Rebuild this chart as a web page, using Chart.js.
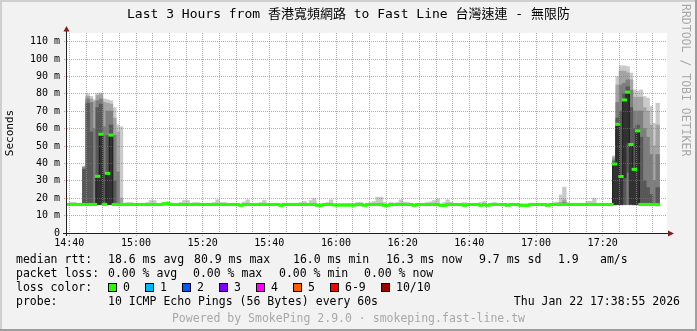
<!DOCTYPE html>
<html><head><meta charset="utf-8">
<script src="https://cdn.jsdelivr.net/npm/chart.js@4.4.1/dist/chart.umd.min.js"></script>
<style>
html,body{margin:0;padding:0;background:#f2f2f2;}
#wrap{position:relative;width:697px;height:331px;overflow:hidden;}
#c{position:absolute;left:0;top:0;}
.t{position:absolute;font-family:"DejaVu Sans Mono",monospace;font-size:11.5px;line-height:14px;color:#000;white-space:pre;}
.sw{position:absolute;width:7px;height:7px;border:1px solid #000;top:283px;}
#rrd{position:absolute;left:679px;top:4px;writing-mode:vertical-rl;font-family:"DejaVu Sans Mono",monospace;font-size:11.5px;color:#a8a8a8;line-height:14px;white-space:pre;}
</style></head><body>
<div id="wrap">
<canvas id="c" width="697" height="331"></canvas>
<div id="rrd">RRDTOOL / TOBI OETIKER</div>
<div class="t" style="left:16px;top:252px">median rtt:</div>
<div class="t" style="left:108px;top:252px">18.6 ms avg</div>
<div class="t" style="left:194px;top:252px">80.9 ms max</div>
<div class="t" style="left:293px;top:252px">16.0 ms min</div>
<div class="t" style="left:386px;top:252px">16.3 ms now</div>
<div class="t" style="left:479px;top:252px">9.7 ms sd</div>
<div class="t" style="left:558px;top:252px">1.9</div>
<div class="t" style="left:600px;top:252px">am/s</div>
<div class="t" style="left:16px;top:266px">packet loss:</div>
<div class="t" style="left:108px;top:266px">0.00 % avg</div>
<div class="t" style="left:193px;top:266px">0.00 % max</div>
<div class="t" style="left:279px;top:266px">0.00 % min</div>
<div class="t" style="left:364px;top:266px">0.00 % now</div>
<div class="t" style="left:16px;top:280px">loss color:</div>
<div id="lossLegend"></div>
<div class="t" style="left:16px;top:294px">probe:</div>
<div class="t" style="left:108px;top:294px">10 ICMP Echo Pings (56 Bytes) every 60s</div>
<div class="t" style="right:17px;top:294px">Thu Jan 22 17:38:55 2026</div>
<div class="t" style="left:0;width:697px;text-align:center;top:311px;color:#a8a8a8">Powered by SmokePing 2.9.0 · smokeping.fast-line.tw</div>
</div>
<script>
// ---- data (minutes after 14:40; slot i covers minute i-1..i) ----
const timeLabels = ['14:40','15:00','15:20','15:40','16:00','16:20','16:40','17:00','17:20'];
const timeTickMin = [0,20,40,60,80,100,120,140,160];
const yTickVals = [0,10,20,30,40,50,60,70,80,90,100,110];
const yTickLabels = ['0','10 m','20 m','30 m','40 m','50 m','60 m','70 m','80 m','90 m','100 m','110 m'];

const medianMs = [
16.4,16.4,16.4,16.4,16.4,16.4,16.4,16.4,16.4,32.6,
56.8,16.5,34.3,56.3,16.4,16.4,16.4,16.4,16.4,16.4,
16.4,16.4,16.4,16.4,16.4,16.4,16.4,16.4,16.4,16.9,
16.9,16.4,16.4,16.4,16.4,16.4,16.4,16.4,16.4,16.4,
16.4,16.4,16.4,16.4,16.4,16.4,16.4,16.4,16.4,16.4,
16.4,16.4,15.9,16.4,16.4,16.4,16.4,16.4,16.4,16.4,
16.4,16.4,16.4,16.4,15.9,16.4,16.4,16.4,16.4,16.4,
16.4,16.4,16.4,16.4,16.4,15.9,15.9,16.4,16.4,16.4,
16.1,16.1,16.1,16.1,16.1,16.1,16.1,16.4,16.4,15.9,
16.4,16.4,16.4,16.4,16.4,15.9,15.9,16.4,16.4,16.4,
16.4,16.4,16.4,16.4,15.9,16.4,16.4,16.4,16.4,16.4,
16.4,16.4,15.9,15.9,16.4,16.4,16.4,16.4,16.4,15.9,
16.4,16.4,16.4,16.4,15.9,16.4,15.9,16.4,16.4,16.4,
16.4,16.4,15.9,16.4,16.4,16.4,15.9,15.9,15.9,16.4,
16.4,16.4,16.4,16.4,15.9,16.4,16.4,16.4,16.4,16.4,
16.4,16.4,16.4,16.4,16.4,16.4,16.4,16.4,16.4,16.4,
16.4,16.4,16.4,16.4,39.7,62.5,32.5,76.5,81.0,50.9,
36.6,58.7,16.4,16.4,16.4,16.4,16.4,16.3];

const smokeTopMs = [
17.0,17.6,17.6,16.6,16.6,38.5,79.8,78.5,76.5,80.3,
80.5,77.0,76.5,76.0,72.0,62.0,61.0,16.6,17.4,17.4,
16.6,16.6,16.6,16.6,17.4,18.6,18.6,16.6,16.6,16.9,
18.0,16.9,16.6,16.6,17.4,18.6,18.6,16.6,17.4,17.4,
16.6,16.6,16.6,16.6,17.4,19.0,17.4,17.4,16.6,16.6,
16.6,16.6,16.6,17.7,19.0,16.6,16.6,16.6,17.4,18.6,
16.6,16.6,16.6,16.6,16.6,16.6,16.6,16.6,16.6,16.6,
17.4,18.0,16.6,18.6,19.8,16.6,16.6,16.6,17.4,19.0,
16.6,16.6,16.6,16.6,16.6,16.6,16.6,17.4,17.4,16.6,
16.6,17.4,18.0,20.5,20.5,17.6,16.6,17.4,16.6,17.4,
19.0,17.6,17.4,16.6,16.6,16.6,16.6,16.6,17.4,17.8,
18.6,19.6,16.6,17.4,19.0,17.6,16.6,16.6,16.6,17.4,
16.6,16.6,16.6,16.6,17.4,18.0,16.6,16.6,17.4,16.6,
16.6,16.6,16.6,16.6,16.6,16.6,16.6,16.6,16.6,16.6,
16.6,16.6,16.6,16.6,16.6,16.6,17.4,17.7,21.8,26.3,
17.4,16.6,16.6,16.6,16.6,16.6,18.1,18.1,19.9,16.6,
16.6,16.6,16.6,16.6,44.3,89.9,96.0,96.0,95.6,91.8,
82.2,81.3,82.2,78.4,77.5,72.6,63.0,74.5];

// slots with several sorted pings (10 per slot) visible as smoke
const spikeSlots = [5,6,7,8,9,10,11,12,13,14,15,16,148,149,164,165,166,167,168,169,170,171,172,173,174,175,176,177];
const spikePings = [
[16.2,16.3,16.3,16.4,16.4,16.5,36.5,37.5,38.0,38.5],
[16.2,16.3,16.4,16.4,16.5,16.5,74.5,77.0,78.5,79.8],
[16.2,16.3,16.4,16.4,16.5,16.6,58.0,75.0,77.0,78.5],
[16.2,16.3,16.4,16.5,16.5,16.6,17.0,60.0,75.5,76.5],
[16.3,16.4,16.4,16.5,16.5,32.6,72.0,76.0,79.0,80.3],
[16.3,16.4,16.5,16.5,16.6,56.8,74.0,77.0,79.5,80.5],
[16.2,16.3,16.4,16.4,16.5,16.6,34.0,61.0,75.0,77.0],
[16.3,16.4,16.5,16.5,16.6,34.3,56.0,70.0,74.5,76.5],
[16.3,16.4,16.5,16.5,16.6,56.3,62.0,70.0,74.0,76.0],
[16.2,16.3,16.4,16.4,16.5,16.6,30.0,56.0,66.0,72.0],
[16.2,16.3,16.4,16.4,16.5,16.6,17.0,35.0,58.0,62.0],
[16.2,16.3,16.4,16.4,16.5,16.5,16.6,17.0,20.0,61.0],
[16.2,16.3,16.3,16.4,16.4,16.4,16.5,16.6,17.5,21.8],
[16.2,16.3,16.3,16.4,16.4,16.4,16.6,17.5,19.0,26.3],
[16.2,16.3,16.3,16.4,16.4,39.7,41.0,42.0,43.5,44.3],
[16.2,16.3,16.4,16.5,16.6,62.5,66.0,75.0,85.0,89.9],
[16.2,16.3,16.4,16.5,16.6,32.5,70.0,85.0,93.0,96.0],
[16.3,16.4,16.5,16.5,32.0,76.5,80.0,86.0,93.0,96.0],
[16.3,16.4,16.5,35.0,51.8,81.0,84.0,88.0,92.0,95.6],
[16.3,16.4,16.5,16.6,16.6,50.9,72.0,82.0,88.0,91.8],
[16.2,16.3,16.4,16.5,16.5,36.6,60.0,70.0,78.0,82.2],
[16.2,16.3,16.4,16.5,16.6,58.7,62.0,70.0,78.0,81.3],
[16.2,16.3,16.4,16.5,16.5,16.6,55.0,70.0,78.0,82.2],
[16.2,16.3,16.4,16.5,16.5,16.6,30.0,60.0,72.0,78.4],
[16.2,16.3,16.4,16.5,16.5,16.6,26.0,55.0,70.0,77.5],
[16.2,16.3,16.4,16.5,16.5,16.6,22.0,45.0,62.0,72.6],
[16.2,16.3,16.4,16.5,16.5,16.6,17.0,30.0,50.0,63.0],
[16.2,16.3,16.4,16.5,16.5,16.6,26.0,45.0,62.0,74.5]];

const lossLabels = ['0','1','2','3','4','5','6-9','10/10'];
const lossColors = ['#26ff00','#00b8ff','#0059ff','#7e00ff','#ff00fe','#ff5e00','#ff0000','#a10000'];
const lossSwatchX = [108,145,182,219,256,293,330,381];

// ---- legend swatches ----
const lg = document.getElementById('lossLegend');
lossLabels.forEach((l, k) => {
  const s = document.createElement('div'); s.className = 'sw';
  s.style.left = lossSwatchX[k] + 'px'; s.style.background = lossColors[k]; lg.appendChild(s);
  const t = document.createElement('div'); t.className = 't';
  t.style.left = (lossSwatchX[k] + 15) + 'px'; t.style.top = '280px'; t.textContent = l; lg.appendChild(t);
});

// ---- build datasets ----
const N = medianMs.length;
const pingsAt = i => {
  const k = spikeSlots.indexOf(i);
  if (k >= 0) return spikePings[k];
  const m = medianMs[i];
  return [m,m,m,m,m,m,m,m,m,Math.max(m, smokeTopMs[i])];
};
const greys = ['#cacaca','#a4a4a4','#7e7e7e','#585858','#323232'];
const layerData = L => {
  const arr = [];
  for (let i = 0; i < N; i++) {
    const p = pingsAt(i);
    const lo = p[L], hi = p[9 - L];
    if (L === 0 || hi - lo > 0.05) arr.push({x: i - 0.5, y: [lo, hi]});
  }
  return arr;
};
const datasets = [];
greys.forEach((g, L) => datasets.push({
  type: 'bar', data: layerData(L), backgroundColor: g, borderWidth: 0, inflateAmount: 0.5,
  grouped: false, barPercentage: 1, categoryPercentage: 1, order: 20 - L, clip: 0
}));
datasets.push({
  type: 'line', data: medianMs.map((m, i) => ({x: i - 0.5, y: m})), stepped: 'middle',
  borderColor: '#202020', borderWidth: 1, pointRadius: 0, order: 5, clip: 0
});
datasets.push({
  type: 'bar', data: medianMs.map((m, i) => ({x: i - 0.5, y: [m - 0.3, m + 0.3]})),
  backgroundColor: lossColors[0], borderWidth: 0, grouped: false, inflateAmount: 1,
  barPercentage: 1, categoryPercentage: 1, order: 1, clip: 0
});

const MAJOR = 'rgba(222,79,79,0.6)';
const MINOR = 'rgba(143,143,143,0.75)';
const MONO = '"DejaVu Sans Mono", monospace';

const frame = {
  id: 'frame',
  beforeDraw(chart) {
    const c = chart.ctx, a = chart.chartArea;
    c.save();
    c.fillStyle = '#f2f2f2'; c.fillRect(0, 0, 697, 331);
    c.fillStyle = '#cfcfcf'; c.fillRect(0, 0, 697, 2); c.fillRect(0, 0, 2, 331);
    c.fillStyle = '#9e9e9e'; c.fillRect(0, 329, 697, 2); c.fillRect(695, 0, 2, 331);
    c.fillStyle = '#ffffff'; c.fillRect(a.left, a.top, a.right - a.left, a.bottom - a.top);
    c.restore();
  },
  afterDraw(chart) {
    const c = chart.ctx, a = chart.chartArea;
    c.save();
    c.strokeStyle = '#1f1f1f'; c.lineWidth = 1;
    c.beginPath(); c.moveTo(a.left - 0.5, a.bottom + 3); c.lineTo(a.left - 0.5, a.top - 2); c.stroke();
    c.beginPath(); c.moveTo(a.left - 4, a.bottom + 0.5); c.lineTo(a.right + 2, a.bottom + 0.5); c.stroke();
    c.fillStyle = '#801f1f';
    c.beginPath(); c.moveTo(a.left - 3.5, a.top - 1.5); c.lineTo(a.left + 2.5, a.top - 1.5); c.lineTo(a.left - 0.5, a.top - 7); c.closePath(); c.fill();
    c.beginPath(); c.moveTo(a.right + 1, a.bottom - 2.5); c.lineTo(a.right + 1, a.bottom + 3.5); c.lineTo(a.right + 7, a.bottom + 0.5); c.closePath(); c.fill();
    c.restore();
  }
};

new Chart(document.getElementById('c'), {
  data: { datasets },
  options: {
    responsive: false, animation: false, devicePixelRatio: 1,
    layout: { autoPadding: false, padding: 0 },
    plugins: {
      legend: { display: false }, tooltip: { enabled: false },
      title: { display: true, text: 'Last 3 Hours from 香港寬頻網路 to Fast Line 台灣速連 - 無限防',
        color: '#000', font: { family: '"DejaVu Sans Mono","Noto Sans CJK TC",monospace', size: 13, weight: 'normal', lineHeight: 1.2 },
        padding: { top: 7, bottom: 10.4 } }
    },
    scales: {
      x: {
        type: 'linear', min: -0.7, max: 179.3, offset: false,
        afterBuildTicks: s => { const t = []; for (let v = 0; v <= 175; v += 5) t.push({value: v}); s.ticks = t; },
        afterFit: s => { s.height = 98; },
        ticks: { autoSkip: false, maxRotation: 0, padding: 1, color: '#000', font: { family: MONO, size: 10 },
          callback: v => { const k = timeTickMin.indexOf(v); return k >= 0 ? timeLabels[k] : ''; } },
        grid: { z: 1, lineWidth: 1, tickLength: 3, offset: false,
          color: c => (c.tick && c.tick.value % 20 === 0) ? MAJOR : MINOR,
          tickColor: c => (c.tick && c.tick.value % 20 === 0) ? MAJOR : 'rgba(0,0,0,0)',
          tickBorderDash: [1, 1] },
        border: { display: false, dash: [1, 1] }
      },
      y: {
        type: 'linear', min: 0, max: 115,
        afterBuildTicks: s => { const t = []; for (let v = 0; v <= 110; v += 5) t.push({value: v}); s.ticks = t; },
        afterFit: s => { s.width = 67; },
        ticks: { padding: 4, color: '#000', font: { family: MONO, size: 10 },
          callback: v => { const k = yTickVals.indexOf(v); return k >= 0 ? yTickLabels[k] : ''; } },
        grid: { z: 1, lineWidth: 1, tickLength: 3,
          color: c => (c.tick && c.tick.value % 10 === 0) ? MAJOR : MINOR,
          tickColor: c => (c.tick && c.tick.value % 10 === 0) ? MAJOR : 'rgba(0,0,0,0)',
          tickBorderDash: [1, 1] },
        border: { display: false, dash: [1, 1] },
        title: { display: true, text: 'Seconds', color: '#000', font: { family: MONO, size: 11 }, padding: { top: 4, bottom: 0 } }
      },
      yRight: {
        type: 'linear', position: 'right', min: 0, max: 115, display: true,
        afterFit: s => { s.width = 30; },
        ticks: { display: false }, grid: { display: false, drawOnChartArea: false }, border: { display: false }
      }
    }
  },
  plugins: [frame]
});
</script>
</body></html>
